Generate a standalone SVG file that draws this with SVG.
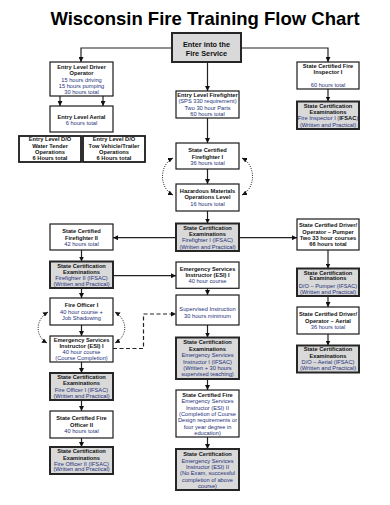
<svg xmlns="http://www.w3.org/2000/svg" width="390" height="505" viewBox="0 0 390 505">
<defs>
<marker id="ah" viewBox="0 0 6 6" refX="6" refY="3" markerWidth="5" markerHeight="5" orient="auto" markerUnits="userSpaceOnUse"><path d="M0,0 L6,3 L0,6 z" fill="#111"/></marker>
<marker id="ahs" viewBox="0 0 6 6" refX="0" refY="3" markerWidth="5" markerHeight="5" orient="auto" markerUnits="userSpaceOnUse"><path d="M6,0 L0,3 L6,6 z" fill="#111"/></marker>
<style>
text{font-family:"Liberation Sans",Arial,sans-serif;text-anchor:middle;font-size:5.7px}
.title{font-size:18.5px;font-weight:bold;fill:#000}
.b{font-weight:bold;fill:#111}
.r{fill:#25317a}
.box{fill:#fff;stroke:#1a1a1a;stroke-width:1.2}
.dbl{fill:#fff;stroke:#1a1a1a;stroke-width:1.8}
.exam{fill:#d9d9d9;stroke:#262626;stroke-width:2}
.conn{stroke:#222;stroke-width:1.2;fill:none}
.dash{stroke-dasharray:4 2.5}
.dot{stroke-dasharray:1 1.3;stroke-width:1}
</style>
</defs>
<rect width="390" height="505" fill="#fff"/>
<text class="title" x="205" y="25">Wisconsin Fire Training Flow Chart</text>

<g id="connectors">
<polyline class="conn" points="172,48 81,48 81,62" marker-end="url(#ah)"/>
<polyline class="conn" points="241,48 328,48 328,62" marker-end="url(#ah)"/>
<line class="conn" x1="207.5" y1="62" x2="207.5" y2="91" marker-end="url(#ah)"/>
<line class="conn" x1="60" y1="96" x2="60" y2="106" marker-end="url(#ah)"/>
<line class="conn" x1="103" y1="96" x2="103" y2="106" marker-end="url(#ah)"/>
<line class="conn" x1="328" y1="89" x2="328" y2="101.5" marker-end="url(#ah)"/>
<line class="conn" x1="207.5" y1="118" x2="207.5" y2="143" marker-end="url(#ah)"/>
<line class="conn" x1="207.5" y1="169" x2="207.5" y2="184" marker-end="url(#ah)"/>
<line class="conn" x1="207.5" y1="211" x2="207.5" y2="223.5" marker-end="url(#ah)"/>
<line class="conn" x1="176" y1="237.7" x2="113" y2="237.7" marker-end="url(#ah)"/>
<line class="conn" x1="239" y1="237.7" x2="297" y2="237.7" marker-end="url(#ah)"/>
<line class="conn" x1="328" y1="250" x2="328" y2="268.5" marker-end="url(#ah)"/>
<line class="conn" x1="328" y1="296" x2="328" y2="307" marker-end="url(#ah)"/>
<line class="conn" x1="328" y1="334" x2="328" y2="345.5" marker-end="url(#ah)"/>
<line class="conn" x1="81.5" y1="250" x2="81.5" y2="261.5" marker-end="url(#ah)"/>
<line class="conn" x1="113" y1="275.7" x2="176" y2="275.7" marker-end="url(#ah)"/>
<line class="conn" x1="207.5" y1="288.3" x2="207.5" y2="295" marker-end="url(#ah)"/>
<line class="conn" x1="207.5" y1="325" x2="207.5" y2="337.5" marker-end="url(#ah)"/>
<line class="conn" x1="207.5" y1="379" x2="207.5" y2="390" marker-end="url(#ah)"/>
<line class="conn" x1="207.5" y1="437" x2="207.5" y2="449" marker-end="url(#ah)"/>
<line class="conn" x1="81.5" y1="288" x2="81.5" y2="298" marker-end="url(#ah)"/>
<line class="conn" x1="81.5" y1="325" x2="81.5" y2="336" marker-end="url(#ah)"/>
<line class="conn" x1="81.5" y1="362" x2="81.5" y2="373" marker-end="url(#ah)"/>
<line class="conn" x1="81.5" y1="400" x2="81.5" y2="411" marker-end="url(#ah)"/>
<line class="conn" x1="81.5" y1="438" x2="81.5" y2="447" marker-end="url(#ah)"/>
<polyline class="conn dash" points="113,348.5 143.5,348.5 143.5,314 176,314" marker-end="url(#ah)"/>
<path class="conn dot" d="M173,158 C159,165 159,188 173,195" marker-start="url(#ahs)" marker-end="url(#ah)"/>
<path class="conn dot" d="M242,158 C256,165 256,188 242,195" marker-start="url(#ahs)" marker-end="url(#ah)"/>
<path class="conn dot" d="M48,312 C35,320 35,336 47,343" marker-start="url(#ahs)" marker-end="url(#ah)"/>
<path class="conn dot" d="M115,312 C128,320 128,336 115,343" marker-start="url(#ahs)" marker-end="url(#ah)"/>
</g>

<g id="start"><rect class="exam" x="172" y="33" width="69" height="29"/>
<text class="b" x="206.5" y="46.5" style="font-size:7.3px">Enter into the</text>
<text class="b" x="206.5" y="56" style="font-size:7.3px">Fire Service</text></g>

<g id="driver-operator"><rect class="box" x="50" y="62" width="63" height="34"/>
<text class="b" x="81.5" y="69">Entry Level Driver</text>
<text class="b" x="81.5" y="75.2">Operator</text>
<text class="r" x="81.5" y="81.6">15 hours driving</text>
<text class="r" x="81.5" y="87.8">15 hours pumping</text>
<text class="r" x="81.5" y="94">30 hours total</text></g>

<g id="entry-aerial"><rect class="box" x="50" y="106" width="63" height="26"/>
<text class="b" x="81.5" y="119">Entry Level Aerial</text>
<text class="r" x="81.5" y="125.3">6 hours total</text></g>

<g id="water-tender"><rect class="dbl" x="19" y="136" width="62" height="26"/>
<text class="b" x="50" y="141.3">Entry Level D/O</text>
<text class="b" x="50" y="147.6">Water Tender</text>
<text class="b" x="50" y="153.7">Operations</text>
<text class="b" x="50" y="160">6 Hours total</text></g>

<g id="tow-vehicle"><rect class="dbl" x="83" y="136" width="62" height="26"/>
<text class="b" x="114" y="141.3">Entry Level D/O</text>
<text class="b" x="114" y="147.6">Tow Vehicle/Trailer</text>
<text class="b" x="114" y="153.7">Operations</text>
<text class="b" x="114" y="160">6 Hours total</text></g>

<g id="fire-inspector"><rect class="box" x="297" y="62" width="62" height="27"/>
<text class="b" x="328" y="68">State Certified Fire</text>
<text class="b" x="328" y="74.2">Inspector I</text>
<text class="r" x="328" y="87">60 hours total</text></g>

<g id="fire-inspector-exam"><rect class="exam" x="297" y="101.5" width="62" height="27.5"/>
<text class="b" x="328" y="108">State Certification</text>
<text class="b" x="328" y="114">Examinations</text>
<text class="r" x="328" y="120">Fire Inspector I (<tspan class="b">IFSAC</tspan>)</text>
<text class="r" x="328" y="126.5">(Written and Practical)</text></g>

<g id="entry-firefighter"><rect class="box" x="176" y="91" width="63" height="27"/>
<text class="b" x="207.5" y="97.2">Entry Level Firefighter</text>
<text class="r" x="207.5" y="103.3">(SPS 330 requirement)</text>
<text class="r" x="207.5" y="109.6">Two 30 hour Parts</text>
<text class="r" x="207.5" y="115.6">60 hours total</text></g>

<g id="firefighter-1"><rect class="box" x="176" y="143" width="63" height="26"/>
<text class="b" x="207.5" y="152">State Certified</text>
<text class="b" x="207.5" y="158.6">Firefighter I</text>
<text class="r" x="207.5" y="165.1">36 hours total</text></g>

<g id="hazmat"><rect class="box" x="176" y="184" width="63" height="27"/>
<text class="b" x="207.5" y="192.6">Hazardous Materials</text>
<text class="b" x="207.5" y="199.2">Operations Level</text>
<text class="r" x="207.5" y="205.9">16 hours total</text></g>

<g id="firefighter-1-exam"><rect class="exam" x="176" y="223.5" width="63" height="27.5"/>
<text class="b" x="207.5" y="230.2">State Certification</text>
<text class="b" x="207.5" y="236.3">Examinations</text>
<text class="r" x="207.5" y="242.2">Firefighter I (IFSAC)</text>
<text class="r" x="207.5" y="248.6">(Written and Practical)</text></g>

<g id="do-pumper"><rect class="box" x="297" y="219" width="62" height="31"/>
<text class="b" x="328" y="227">State Certified Driver/</text>
<text class="b" x="328" y="233.6">Operator – Pumper</text>
<text class="b" x="328" y="240.2">Two 33 hour courses</text>
<text class="b" x="328" y="246.3">66 hours total</text></g>

<g id="do-pumper-exam"><rect class="exam" x="297" y="268.5" width="62" height="27.5"/>
<text class="b" x="328" y="274.7">State Certification</text>
<text class="b" x="328" y="280.4">Examinations</text>
<text class="r" x="328" y="287.6">D/O – Pumper (IFSAC)</text>
<text class="r" x="328" y="293.6">(Written and Practical)</text></g>

<g id="do-aerial"><rect class="box" x="297" y="307" width="62" height="27"/>
<text class="b" x="328" y="316">State Certified Driver/</text>
<text class="b" x="328" y="322.9">Operator – Aerial</text>
<text class="r" x="328" y="329.2">36 hours total</text></g>

<g id="do-aerial-exam"><rect class="exam" x="297" y="345.5" width="62" height="27"/>
<text class="b" x="328" y="351.2">State Certification</text>
<text class="b" x="328" y="358">Examinations</text>
<text class="r" x="328" y="364.3">D/O – Aerial (IFSAC)</text>
<text class="r" x="328" y="370.3">(Written and Practical)</text></g>

<g id="firefighter-2"><rect class="box" x="50" y="224" width="63" height="26"/>
<text class="b" x="81.5" y="232.7">State Certified</text>
<text class="b" x="81.5" y="239.5">Firefighter II</text>
<text class="r" x="81.5" y="246.2">42 hours total</text></g>

<g id="firefighter-2-exam"><rect class="exam" x="50" y="261.5" width="63" height="26.5"/>
<text class="b" x="81.5" y="267.9">State Certification</text>
<text class="b" x="81.5" y="273.9">Examinations</text>
<text class="r" x="81.5" y="279.9">Firefighter II (IFSAC)</text>
<text class="r" x="81.5" y="286">(Written and Practical)</text></g>

<g id="fire-officer-1"><rect class="box" x="50" y="298" width="63" height="27"/>
<text class="b" x="81.5" y="307.2">Fire Officer I</text>
<text class="r" x="81.5" y="314.2">40 hour course +</text>
<text class="r" x="81.5" y="320.2">Job Shadowing</text></g>

<g id="esi-1-left"><rect class="box" x="50" y="336" width="63" height="26"/>
<text class="b" x="81.5" y="341.8">Emergency Services</text>
<text class="b" x="81.5" y="347.8">Instructor (ESI) I</text>
<text class="r" x="81.5" y="354">40 hour course</text>
<text class="r" x="81.5" y="360.2">(Course Completion)</text></g>

<g id="fire-officer-1-exam"><rect class="exam" x="50" y="373" width="63" height="27"/>
<text class="b" x="81.5" y="378.8">State Certification</text>
<text class="b" x="81.5" y="384.8">Examinations</text>
<text class="r" x="81.5" y="391.8">Fire Officer I (IFSAC)</text>
<text class="r" x="81.5" y="397.8">(Written and Practical)</text></g>

<g id="fire-officer-2"><rect class="box" x="50" y="411" width="63" height="27"/>
<text class="b" x="81.5" y="420.3">State Certified Fire</text>
<text class="b" x="81.5" y="427">Officer II</text>
<text class="r" x="81.5" y="433.2">40 hours total</text></g>

<g id="fire-officer-2-exam"><rect class="exam" x="50" y="447" width="63" height="27"/>
<text class="b" x="81.5" y="453">State Certification</text>
<text class="b" x="81.5" y="459.6">Examinations</text>
<text class="r" x="81.5" y="465.6">Fire Officer II (IFSAC)</text>
<text class="r" x="81.5" y="471.3">(Written and Practical)</text></g>

<g id="esi-1"><rect class="box" x="176" y="262" width="63" height="26.3"/>
<text class="b" x="207.5" y="271">Emergency Services</text>
<text class="b" x="207.5" y="277">Instructor (ESI) I</text>
<text class="r" x="207.5" y="283">40 hour course</text></g>

<g id="supervised"><rect class="box" x="176" y="295" width="63" height="30"/>
<text class="r" x="207.5" y="311.2">Supervised Instruction</text>
<text class="r" x="207.5" y="317.6">30 hours minimum</text></g>

<g id="esi-1-exam"><rect class="exam" x="176" y="337.5" width="63" height="41.5"/>
<text class="b" x="207.5" y="344.2">State Certification</text>
<text class="b" x="207.5" y="351.2">Examinations</text>
<text class="r" x="207.5" y="357">Emergency Services</text>
<text class="r" x="207.5" y="363.6">Instructor I (IFSAC)</text>
<text class="r" x="207.5" y="370.2">(Written + 30 hours</text>
<text class="r" x="207.5" y="376.2">supervised teaching)</text></g>

<g id="esi-2"><rect class="box" x="176" y="390" width="63" height="47"/>
<text class="b" x="207.5" y="397">State Certified Fire</text>
<text class="r" x="207.5" y="403">Emergency Services</text>
<text class="r" x="207.5" y="409.5">Instructor (ESI) II</text>
<text class="r" x="207.5" y="415.8">(Completion of Course</text>
<text class="r" x="207.5" y="422.3">Design requirements or</text>
<text class="r" x="207.5" y="428.8">four year degree in</text>
<text class="r" x="207.5" y="435">education)</text></g>

<g id="esi-2-exam"><rect class="exam" x="176" y="449" width="63" height="41"/>
<text class="b" x="207.5" y="456.3">State Certification</text>
<text class="r" x="207.5" y="462.8">Emergency Services</text>
<text class="r" x="207.5" y="469">Instructor (ESI) II</text>
<text class="r" x="207.5" y="475.3">(No Exam, successful</text>
<text class="r" x="207.5" y="481.8">completion of above</text>
<text class="r" x="207.5" y="487.7">course)</text></g>
</svg>
